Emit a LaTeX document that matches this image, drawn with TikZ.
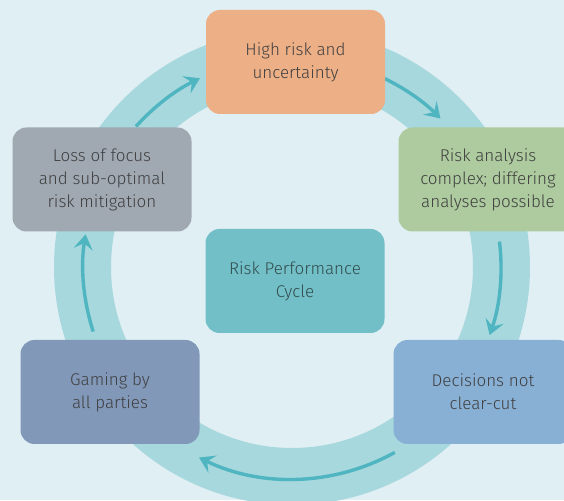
\documentclass[tikz,border=0pt]{standalone}
\usepackage{fontspec}
\setmainfont{Fira Sans}[UprightFont=* Light]
\usepackage{tikz}
\usetikzlibrary{arrows.meta}
\usetikzlibrary{positioning}
\definecolor{paper}{HTML}{E0EFF3}
\definecolor{ringblue}{HTML}{A7D8DD}
\definecolor{flowteal}{HTML}{4FB5C0}
\definecolor{inkgray}{HTML}{404040}
\definecolor{peach}{HTML}{ECAF86}
\definecolor{sage}{HTML}{ADCB9E}
\definecolor{slategray}{HTML}{A0A8B2}
\definecolor{lagoon}{HTML}{72BFC8}
\definecolor{dusk}{HTML}{8198B9}
\definecolor{sky}{HTML}{88AFD4}
\tikzset{
    stage/.style={
           rectangle,
           rounded corners=14pt,
           minimum width=179pt,
           minimum height=104pt,
           inner sep=0pt,
           align=center,
           text=inkgray,
           font=\fontsize{17}{23}\selectfont,
           },
}
\tikzset{
    flow/.style={
           draw=flowteal,
           line width=3.4pt,
           -{Stealth[length=15pt,width=19pt,inset=6pt]},
           },
}

\begin{document}
\begin{tikzpicture}[x=1pt,y=1pt]
\useasboundingbox (0,0) rectangle (564,500);
\clip (0,0) rectangle (564,500);
\fill[paper] (0,0) rectangle (564,500);
\coordinate (hub) at (292,233);
\draw[ringblue,line width=57pt] (hub) circle (209.5);
% arrows round the ring
\draw[flow] ([shift={(66:210)}]hub) arc[start angle=66,end angle=45,radius=210];
\draw[flow] ([shift={(7:209)}]hub) arc[start angle=7,end angle=-19,radius=209];
\draw[flow] ([shift={(-61:212)}]hub) arc[start angle=-61,end angle=-116,radius=212];
\draw[flow] ([shift={(198:209)}]hub) arc[start angle=198,end angle=171,radius=209];
\draw[flow] ([shift={(138:210)}]hub) arc[start angle=138,end angle=116,radius=210];
% stages
\node[stage,fill=lagoon,text=inkgray!80!teal](centre) at (295,219){Risk Performance\\Cycle};
\node[stage,fill=peach](risk) at (295.5,438){High risk and\\uncertainty};
\node[stage,fill=sage](analysis) at (488,320.5){Risk analysis\\complex; differing\\analyses possible};
\node[stage,fill=sky](decide) at (483,108){Decisions not\\clear-cut};
\node[stage,fill=dusk](gaming) at (110,108){Gaming by\\all parties};
\node[stage,fill=slategray](focus) at (102,320.5){Loss of focus\\and sub-optimal\\risk mitigation};
\end{tikzpicture}
\end{document}
